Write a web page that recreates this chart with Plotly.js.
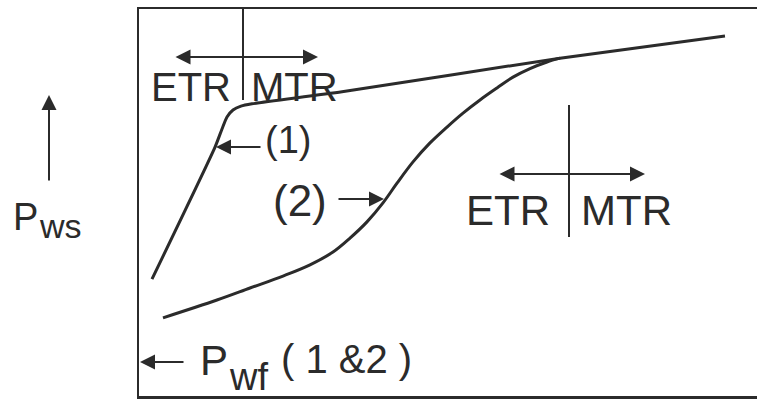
<!DOCTYPE html>
<html>
<head>
<meta charset="utf-8">
<script src="https://cdn.plot.ly/plotly-3.0.1.min.js"></script>
<style>
  html, body { margin: 0; padding: 0; background: #fff; }
  #chart { width: 759px; height: 401px; }
</style>
</head>
<body>
<div id="chart"></div>
<script>
// Schematic shut-in pressure response (arbitrary units, 0-100 on both axes)
const curve1X = [2.10, 12.30, 13.43, 14.24, 15.21, 16.50, 18.28, 32.85, 68.12, 94.82];
const curve1Y = [30.2, 64.3, 69.0, 72.1, 73.9, 74.9, 75.5, 78.6, 87.3, 93.0];

const curve2X = [3.88, 12.62, 17.96, 23.30, 27.67, 31.39, 34.14, 36.89, 39.48, 41.75,
                 44.34, 47.09, 49.84, 52.43, 55.18, 57.93, 60.52, 63.27, 66.02, 68.12];
const curve2Y = [20.2, 24.8, 27.9, 31.0, 33.9, 37.2, 40.8, 45.0, 49.9, 55.0,
                 60.5, 65.4, 69.5, 73.1, 76.5, 79.6, 82.4, 84.6, 86.3, 87.3];

const curveNames = ['(1)', '(2)'];

// Plot-area geometry (pixels) so annotations can be placed in paper units
const W = 759, H = 401;
const M = { l: 139, r: 2, t: 9, b: 5 };
const PW = W - M.l - M.r, PH = H - M.t - M.b;
const fx = p => (p - M.l) / PW;
const fy = p => (H - M.b - p) / PH;

const INK = '#2b2b2b';
const FONT = 'Liberation Sans, Arial, sans-serif';

const traces = [
  { x: curve1X, y: curve1Y, name: curveNames[0], mode: 'lines',
    line: { color: INK, width: 3, shape: 'spline', smoothing: 0.6 }, hoverinfo: 'skip' },
  { x: curve2X, y: curve2Y, name: curveNames[1], mode: 'lines',
    line: { color: INK, width: 3, shape: 'spline', smoothing: 1 }, hoverinfo: 'skip' }
];

// text label: glyph left edge px, cap-centre px, size
function label(text, left, mid, size) {
  return { text: text, xref: 'paper', yref: 'paper', x: fx(left - 4), y: fy(mid),
           xanchor: 'left', yanchor: 'middle', showarrow: false,
           font: { family: FONT, size: size, color: INK } };
}
// arrow from tail to head (px)
function arrow(hx, hy, tx, ty, both) {
  return { text: '', xref: 'paper', yref: 'paper', x: fx(hx), y: fy(hy),
           axref: 'pixel', ayref: 'pixel', ax: tx - hx, ay: ty - hy,
           showarrow: true, arrowhead: 2, startarrowhead: 2,
           arrowside: both ? 'end+start' : 'end',
           arrowsize: 1.5, startarrowsize: 1.5, arrowwidth: 2, arrowcolor: INK };
}

const annotations = [
  // early / middle time region markers
  label('ETR', 153, 87.5, 40),
  label('MTR', 253, 87.5, 40),
  arrow(318, 57, 174, 57, true),
  label('ETR', 468, 210, 42),
  label('MTR', 583, 210, 42),
  arrow(645, 174, 498, 174, true),
  // curve tags
  label(curveNames[0], 267, 140, 38),
  arrow(216, 147, 262, 147, false),
  label(curveNames[1], 275, 200, 44),
  arrow(384, 199, 337, 199, false),
  // flowing pressure marker
  arrow(140, 362, 185, 362, false),
  label('P', 202, 360, 42),
  label('wf', 231, 377, 38),
  label('( 1 &amp;2 )', 283, 359, 40),
  // vertical axis label
  arrow(49, 95, 49, 182, false),
  label('P', 15, 216.5, 38),
  label('ws', 41, 226, 34)
];

const shapes = [
  { type: 'line', xref: 'paper', yref: 'paper', x0: fx(243), x1: fx(243), y0: 1, y1: fy(100),
    line: { color: INK, width: 2 } },
  { type: 'line', xref: 'paper', yref: 'paper', x0: fx(569), x1: fx(569), y0: fy(105), y1: fy(237),
    line: { color: INK, width: 2 } }
];

const layout = {
  width: W, height: H,
  margin: M,
  paper_bgcolor: '#ffffff',
  plot_bgcolor: '#ffffff',
  showlegend: false,
  xaxis: { range: [0, 100], showgrid: false, zeroline: false, showticklabels: false,
           ticks: '', showline: true, mirror: true, linecolor: INK, linewidth: 2.5 },
  yaxis: { range: [0, 100], showgrid: false, zeroline: false, showticklabels: false,
           ticks: '', showline: true, mirror: false, linecolor: INK, linewidth: 2.5 },
  annotations: annotations,
  shapes: shapes
};

Plotly.newPlot('chart', traces, layout, { staticPlot: true, displayModeBar: false });
</script>
</body>
</html>
